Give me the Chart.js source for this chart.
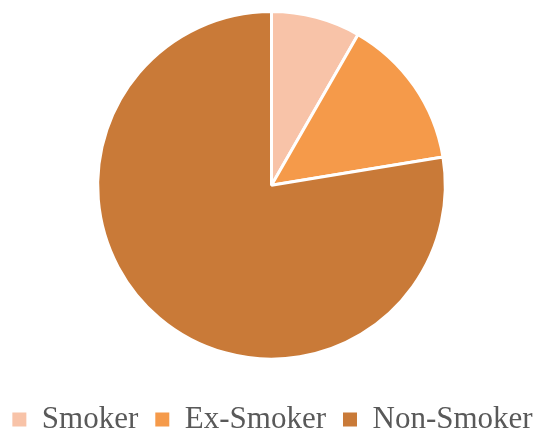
<!DOCTYPE html>
<html>
<head>
<meta charset="utf-8">
<script src="https://cdn.jsdelivr.net/npm/chart.js@4"></script>
<style>
  html, body { margin: 0; padding: 0; background: #fff; overflow: hidden; }
  #wrap { width: 539px; height: 432px; margin-left: 2px; }
</style>
</head>
<body>
<div id="wrap"><canvas id="chartDisplay"></canvas></div>
<script>
// slices, clockwise from 12 o'clock
const categories = ['Smoker', 'Ex-Smoker', 'Non-Smoker'];
const shares = [8.3, 14.1, 77.6];
const sliceColors = ['#f8c3a8', '#f59a4a', '#c97a38'];

const chartDisplay = document.getElementById('chartDisplay');

new Chart(chartDisplay, {
  type: 'pie',
  data: {
    labels: categories,
    datasets: [{
      data: shares,
      backgroundColor: sliceColors,
      borderColor: '#ffffff',
      borderWidth: 3
    }]
  },
  options: {
    responsive: true,
    maintainAspectRatio: false,
    animation: false,
    // negative side/bottom padding lets the single legend row sit lower and wider
    layout: { padding: { top: 10, bottom: -13, left: -7, right: -9 } },
    plugins: {
      tooltip: { enabled: false },
      legend: {
        position: 'bottom',
        title: { display: true, text: '', padding: 6 },
        labels: {
          boxWidth: 14,
          boxHeight: 14,
          padding: 17,
          color: '#595959',
          font: { family: '"Liberation Serif", "Times New Roman", serif', size: 31 },
          // plain filled squares, no white slice border around them
          generateLabels: (chart) =>
            Chart.overrides.pie.plugins.legend.labels.generateLabels(chart)
              .map(item => ({ ...item, lineWidth: 0 }))
        }
      }
    }
  }
});
</script>
</body>
</html>
